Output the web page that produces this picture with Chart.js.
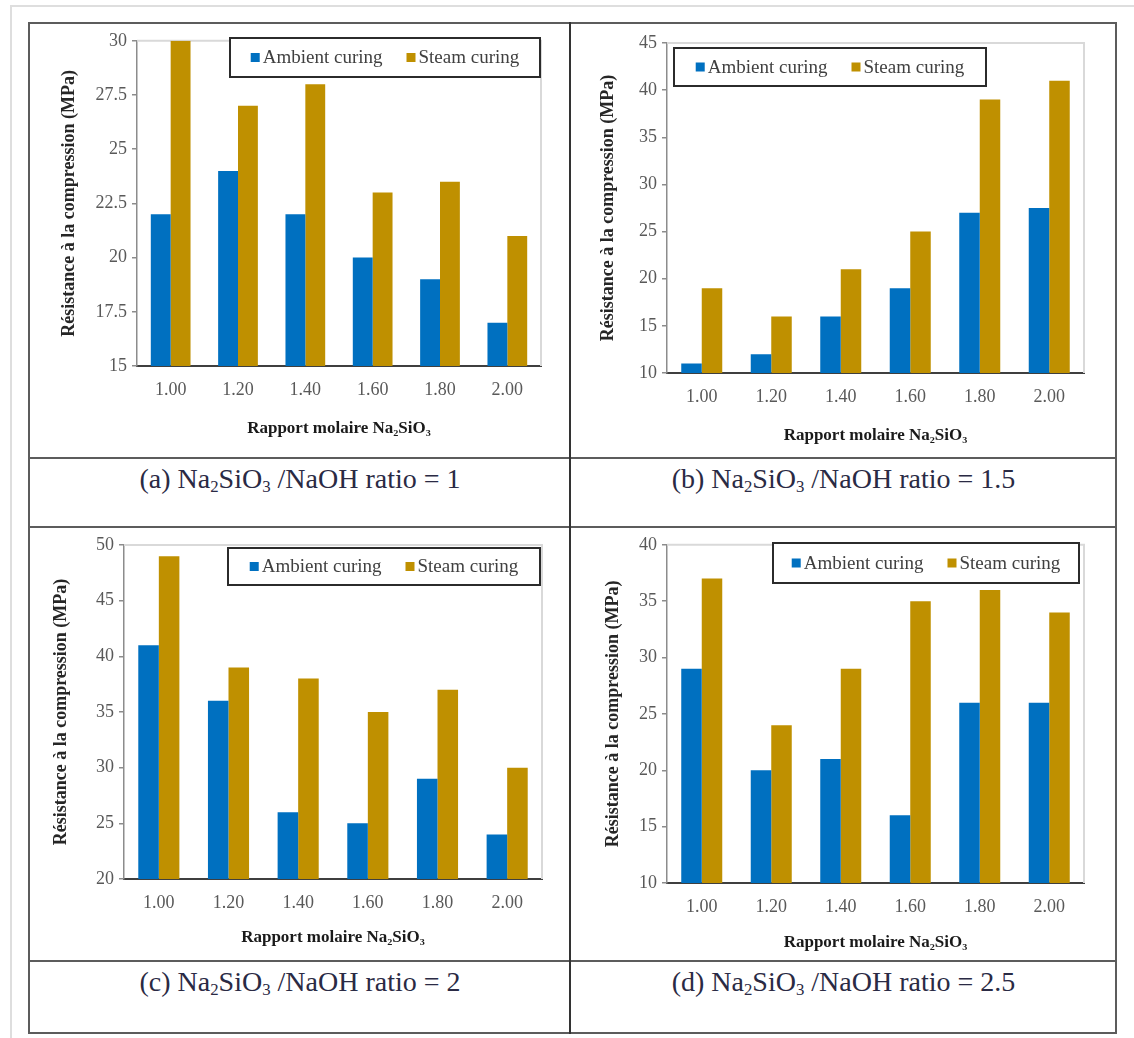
<!DOCTYPE html>
<html>
<head>
<meta charset="utf-8">
<script src="https://cdn.jsdelivr.net/npm/chart.js@4.4.1/dist/chart.umd.min.js"></script>
<style>
  html, body { margin: 0; padding: 0; background: #fff; }
  body { position: relative; width: 1134px; height: 1038px; overflow: hidden; font-family: "Liberation Serif", "Times New Roman", serif; }
  .frame { position: absolute; left: 10px; top: 5px; width: 1200px; height: 1100px; border-top: 2px solid #dedede; border-left: 2px solid #dedede; }
  .line { position: absolute; background: #5c5c5c; }
  .cell { position: absolute; }
  .cap { position: absolute; height: 36px; line-height: 36px; text-align: center; font-size: 28px; color: #2a2a44; white-space: nowrap; }
  .cap sub { font-size: 60%; line-height: 0; vertical-align: -0.25em; }
</style>
</head>
<body>
<div class="frame"></div>

<!-- table lines -->
<div class="line" style="left:28px; top:22px; width:1089px; height:2px"></div>
<div class="line" style="left:28px; top:457px; width:1089px; height:2px"></div>
<div class="line" style="left:28px; top:526px; width:1089px; height:2px"></div>
<div class="line" style="left:28px; top:960px; width:1089px; height:2px"></div>
<div class="line" style="left:28px; top:1032px; width:1089px; height:2px"></div>
<div class="line" style="left:28px; top:22px; width:2px; height:1012px"></div>
<div class="line" style="left:569px; top:22px; width:2px; height:1012px; background:#333"></div>
<div class="line" style="left:1115px; top:22px; width:2px; height:1012px"></div>

<div class="cell" style="left:31px; top:25px; width:537px; height:431px"><canvas id="chartA"></canvas></div>
<div class="cell" style="left:572px; top:25px; width:542px; height:431px"><canvas id="chartB"></canvas></div>
<div class="cell" style="left:31px; top:529px; width:537px; height:430px"><canvas id="chartC"></canvas></div>
<div class="cell" style="left:572px; top:529px; width:542px; height:430px"><canvas id="chartD"></canvas></div>

<div class="cap" style="left:30px; top:461px; width:540px">(a) Na<sub>2</sub>SiO<sub>3</sub> /NaOH ratio = 1</div>
<div class="cap" style="left:571px; top:461px; width:545px">(b) Na<sub>2</sub>SiO<sub>3</sub> /NaOH ratio = 1.5</div>
<div class="cap" style="left:30px; top:964px; width:540px">(c) Na<sub>2</sub>SiO<sub>3</sub> /NaOH ratio = 2</div>
<div class="cap" style="left:571px; top:964px; width:545px">(d) Na<sub>2</sub>SiO<sub>3</sub> /NaOH ratio = 2.5</div>

<script>
// molar ratio categories (same for every panel)
const ratios = ["1.00", "1.20", "1.40", "1.60", "1.80", "2.00"];
const seriesNames = ["Ambient curing", "Steam curing"];

// (a) Na2SiO3/NaOH = 1
const ambientA = [22, 24, 22, 20, 19, 17];
const steamA = [30, 27, 28, 23, 23.5, 21];
// (b) Na2SiO3/NaOH = 1.5
const ambientB = [11, 12, 16, 19, 27, 27.5];
const steamB = [19, 16, 21, 25, 39, 41];
// (c) Na2SiO3/NaOH = 2
const ambientC = [41, 36, 26, 25, 29, 24];
const steamC = [49, 39, 38, 35, 37, 30];
// (d) Na2SiO3/NaOH = 2.5
const ambientD = [29, 20, 21, 16, 26, 26];
const steamD = [37, 24, 29, 35, 36, 34];

// y axis [min, max, step]
const yAxisA = [15, 30, 2.5];
const yAxisB = [10, 45, 5];
const yAxisC = [20, 50, 5];
const yAxisD = [10, 40, 5];

const yTitle = "Résistance à la compression (MPa)";
const xTitle = "Rapport molaire Na₂SiO₃";

const BLUE = "#0070C0";
const GOLD = "#BF9000";

Chart.defaults.font.family = "'Liberation Serif', 'Times New Roman', serif";
Chart.defaults.animation = false;

// legend drawn as a framed box inside the plot, Excel style
const boxLegend = {
  id: "boxLegend",
  afterDatasetsDraw(chart, args, opts) {
    const ctx = chart.ctx;
    ctx.save();
    ctx.fillStyle = "#fff";
    ctx.fillRect(opts.x, opts.y, opts.w, opts.h);
    ctx.lineWidth = 2;
    ctx.strokeStyle = "#2b2b2b";
    ctx.strokeRect(opts.x, opts.y, opts.w, opts.h);
    ctx.font = "19px 'Liberation Serif', 'Times New Roman', serif";
    ctx.textBaseline = "middle";
    const sq = 9, gapIn = 3, gapOut = 24;
    const items = chart.data.datasets.map(d => ({ label: d.label, color: d.backgroundColor, w: ctx.measureText(d.label).width }));
    let total = 0;
    items.forEach((it, i) => { total += sq + gapIn + it.w + (i ? gapOut : 0); });
    let x = opts.x + (opts.w - total) / 2;
    const cy = opts.y + opts.h / 2;
    items.forEach((it, i) => {
      if (i) x += gapOut;
      ctx.fillStyle = it.color;
      ctx.fillRect(x, cy - sq / 2, sq, sq);
      x += sq + gapIn;
      ctx.fillStyle = "#404040";
      ctx.fillText(it.label, x, cy + 1);
      x += it.w;
    });
    ctx.restore();
  }
};

// light top/right border of the plot area
const plotFrame = {
  id: "plotFrame",
  beforeDatasetsDraw(chart) {
    const { ctx, chartArea: a } = chart;
    ctx.save();
    ctx.strokeStyle = "#d9d9d9";
    ctx.lineWidth = 2;
    ctx.beginPath();
    ctx.moveTo(a.left, a.top);
    ctx.lineTo(a.right, a.top);
    ctx.lineTo(a.right, a.bottom);
    ctx.stroke();
    ctx.restore();
  }
};

function makeChart(id, ambient, steam, yAxis, g) {
  new Chart(document.getElementById(id), {
    type: "bar",
    data: {
      labels: ratios,
      datasets: [
        { label: seriesNames[0], data: ambient, backgroundColor: BLUE },
        { label: seriesNames[1], data: steam, backgroundColor: GOLD }
      ]
    },
    options: {
      responsive: true,
      maintainAspectRatio: false,
      layout: { padding: { top: g.padTop, right: g.padRight, left: 0, bottom: 0 } },
      datasets: { bar: { categoryPercentage: 0.59, barPercentage: 1.0 } },
      plugins: {
        legend: { display: false },
        tooltip: { enabled: false },
        boxLegend: g.legend
      },
      scales: {
        x: {
          grid: { display: true, drawOnChartArea: false, drawTicks: false },
          border: { display: true, color: "#3f3f3f", width: 2 },
          ticks: { color: "#595959", font: { size: 18 }, padding: 13, maxRotation: 0 },
          title: { display: true, text: xTitle, color: "#1a1a1a", font: { size: 17, weight: "bold" }, padding: { top: 0, bottom: g.xTitlePad } },
          afterFit(s) { s.height = g.xH; }
        },
        y: {
          min: yAxis[0],
          max: yAxis[1],
          grid: { drawOnChartArea: false, drawTicks: true, tickLength: 5, color: "#8c8c8c", lineWidth: 1.5 },
          border: { display: true, color: "#8c8c8c", width: 1.5 },
          ticks: { stepSize: yAxis[2], color: "#595959", font: { size: 18 }, padding: 5 },
          title: { display: true, text: yTitle, color: "#262626", font: { size: 18, weight: "bold" }, padding: { top: g.yTitlePad, bottom: 0 } },
          afterFit(s) { s.width = g.yW; }
        }
      }
    },
    plugins: [plotFrame, boxLegend]
  });
}

makeChart("chartA", ambientA, steamA, yAxisA,
  { yW: 106, xH: 90, padTop: 13, padRight: 27, yTitlePad: 28, xTitlePad: 17, legend: { x: 199, y: 13, w: 310, h: 39 } });
makeChart("chartB", ambientB, steamB, yAxisB,
  { yW: 95, xH: 83, padTop: 18, padRight: 30, yTitlePad: 26, xTitlePad: 10, legend: { x: 102, y: 23, w: 312, h: 38 } });
makeChart("chartC", ambientC, steamC, yAxisC,
  { yW: 93, xH: 80, padTop: 16, padRight: 26, yTitlePad: 20, xTitlePad: 11, legend: { x: 197, y: 19, w: 312, h: 37 } });
makeChart("chartD", ambientD, steamD, yAxisD,
  { yW: 95, xH: 76, padTop: 13, padRight: 30, yTitlePad: 31, xTitlePad: 6, legend: { x: 201, y: 14, w: 306, h: 40 } });
</script>
</body>
</html>
